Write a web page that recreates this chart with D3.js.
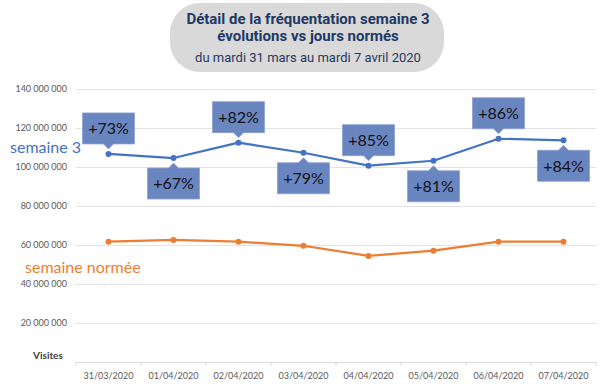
<!DOCTYPE html>
<html>
<head>
<meta charset="utf-8">
<script src="https://cdn.jsdelivr.net/npm/d3@7"></script>
<style>
  html, body { margin: 0; padding: 0; background: #fff; }
  svg { display: block; }
</style>
</head>
<body>
<svg id="chart" width="600" height="387"></svg>
<script>
/* ---------- data ---------------------------------------- */
const dates      = ['31/03/2020','01/04/2020','02/04/2020','03/04/2020','04/04/2020','05/04/2020','06/04/2020','07/04/2020'];
const semaine3   = [106.7e6, 104.6e6, 112.5e6, 107.3e6, 100.7e6, 103.2e6, 114.5e6, 113.7e6];
const normee     = [61.7e6, 62.6e6, 61.7e6, 59.6e6, 54.4e6, 57.1e6, 61.7e6, 61.7e6];
const evolutions = ['+73%','+67%','+82%','+79%','+85%','+81%','+86%','+84%'];
const yTicks     = [0, 20e6, 40e6, 60e6, 80e6, 100e6, 120e6, 140e6];

/* ---------- setup --------------------------------------- */
const svg = d3.select('#chart');
const FONT = 'Lato, "Open Sans", sans-serif';

const x = d3.scaleBand().domain(dates).range([76, 596]);
const y = d3.scaleLinear().domain([0, 140e6]).range([362, 89]);
const cx = d => x(d) + x.bandwidth()/2;

const fr = d3.formatLocale({decimal:',', thousands:' ', grouping:[3], currency:['','€']});
const fmt = fr.format(',');

/* ---------- title pill ---------------------------------- */
const T = svg.append('g');
T.append('rect')
  .attr('x',170).attr('y',3).attr('width',274).attr('height',69)
  .attr('rx',30).attr('fill','#d9d9d9');
T.append('text').attr('x',308).attr('y',24)
  .attr('text-anchor','middle').attr('fill','#1f3864')
  .style('font','bold 15px Roboto, sans-serif')
  .text('Détail de la fréquentation semaine 3');
T.append('text').attr('x',308).attr('y',41)
  .attr('text-anchor','middle').attr('fill','#1f3864')
  .style('font','bold 15px Roboto, sans-serif')
  .text('évolutions vs jours normés');
T.append('text').attr('x',308).attr('y',62)
  .attr('text-anchor','middle').attr('fill','#1f3864')
  .style('font','13px Roboto, sans-serif')
  .text('du mardi 31 mars au mardi 7 avril 2020');

/* ---------- grid & axes --------------------------------- */
const yAx = svg.append('g')
  .attr('transform','translate(76,0)')
  .call(d3.axisLeft(y).tickValues(yTicks.filter(v => v > 0)).tickSize(-520).tickFormat(fmt).tickPadding(9));
yAx.select('.domain').remove();
yAx.selectAll('line').attr('stroke','#e3e3e3').attr('stroke-width',1);
yAx.selectAll('text').attr('fill','#595959').style('font','9px ' + FONT);

const xAx = svg.append('g')
  .attr('transform','translate(0,362)')
  .call(d3.axisBottom(x).tickSize(0).tickPadding(11));
xAx.select('.domain').attr('stroke','#d9d9d9');
xAx.selectAll('text').attr('fill','#595959').style('font','9px ' + FONT);
// category separators
xAx.selectAll('.sep')
  .data(dates.concat(['end']))
  .enter().append('line')
    .attr('class','sep')
    .attr('x1',(d,i) => x.range()[0] + i*x.step())
    .attr('x2',(d,i) => x.range()[0] + i*x.step())
    .attr('y1',0).attr('y2',4)
    .attr('stroke','#d9d9d9');

svg.append('text').attr('x',33).attr('y',359)
  .attr('fill','#404040').style('font','bold 10px ' + FONT)
  .text('Visites');

/* ---------- series -------------------------------------- */
function series(vals, colour){
  const pts = dates.map((d,i) => ({d, v: vals[i]}));
  svg.append('path').datum(pts)
    .attr('fill','none').attr('stroke',colour).attr('stroke-width',2.2)
    .attr('stroke-linejoin','round')
    .attr('d', d3.line().x(p => cx(p.d)).y(p => y(p.v)));
  svg.append('g').selectAll('circle').data(pts).enter().append('circle')
    .attr('cx', p => cx(p.d)).attr('cy', p => y(p.v)).attr('r',3)
    .attr('fill',colour);
}
series(normee, '#ed7d31');
series(semaine3, '#4472c4');

svg.append('text').attr('x',10).attr('y',153)
  .attr('fill','#4472c4').style('font','16px ' + FONT).text('semaine 3');
svg.append('text').attr('x',25).attr('y',273)
  .attr('fill','#ed7d31').style('font','16px ' + FONT).text('semaine normée');

/* ---------- callouts ------------------------------------ */
const BW = 52, BH = 31, GAP = 10, TRI = 5;
const calls = svg.append('g');
dates.forEach((d,i) => {
  const px = cx(d), py = y(semaine3[i]);
  const above = i % 2 === 0;
  let p;
  if(above){
    const b = py - GAP, t = b - BH;
    p = `M${px-BW/2},${t}H${px+BW/2}V${b}H${px+TRI}L${px},${b+TRI}L${px-TRI},${b}H${px-BW/2}Z`;
  } else {
    const t = py + GAP, b = t + BH;
    p = `M${px-BW/2},${t}H${px-TRI}L${px},${t-TRI}L${px+TRI},${t}H${px+BW/2}V${b}H${px-BW/2}Z`;
  }
  calls.append('path').attr('d',p)
    .attr('fill','#6a86c1').attr('stroke','#8aa1d0').attr('stroke-width',0.8);
  calls.append('text')
    .attr('x',px).attr('y', above ? py - GAP - BH/2 : py + GAP + BH/2)
    .attr('dy','.36em').attr('text-anchor','middle')
    .attr('fill','#111').style('font','16px ' + FONT)
    .text(evolutions[i]);
});
</script>
</body>
</html>
